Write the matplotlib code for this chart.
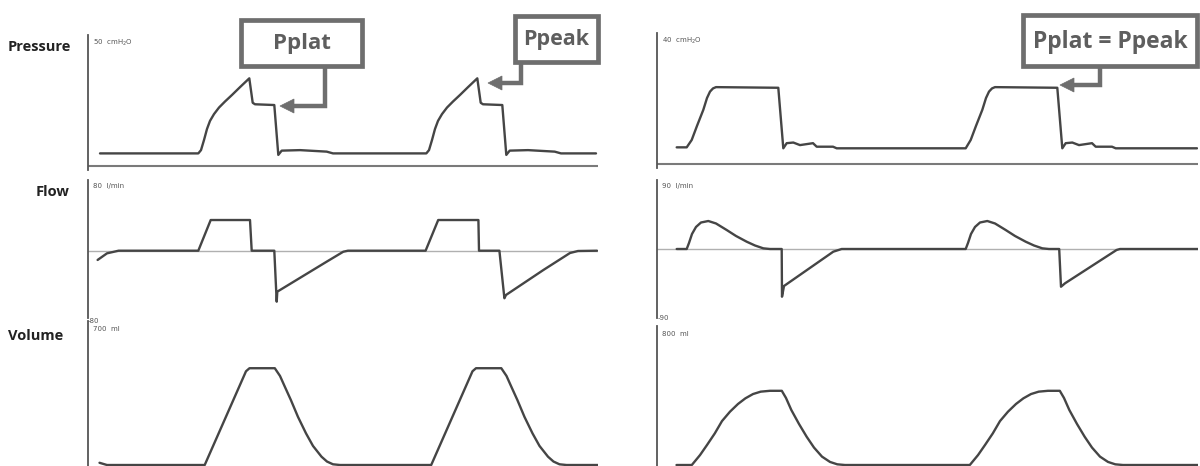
import matplotlib
matplotlib.use("Agg")
import matplotlib.pyplot as plt
from matplotlib.patches import Rectangle, Polygon
from matplotlib.lines import Line2D

# ---------------- data (time in s, values in physical units) ----------------
# Left column: volume-controlled, constant flow
left_p_t = [0.12, 1.103, 1.13, 1.16, 1.19, 1.22, 1.26, 1.31, 1.37, 1.44, 1.52, 1.613, 1.647, 1.67,
            1.863, 1.903, 1.937, 2.12, 2.387, 2.45,
            3.383, 3.41, 3.44, 3.47, 3.50, 3.54, 3.59, 3.65, 3.72, 3.80, 3.893, 3.927, 3.95,
            4.143, 4.183, 4.217, 4.40, 4.667, 4.73, 5.08]
left_p = [5.0, 5.0, 6.3, 10.3, 14.7, 17.9, 20.6, 23.2, 25.6, 28.2, 31.3, 34.8, 25.1, 24.5,
          24.2, 4.4, 6.1, 6.3, 5.7, 5.0,
          5.0, 6.3, 10.3, 14.7, 17.9, 20.6, 23.2, 25.6, 28.2, 31.3, 34.8, 25.1, 24.5,
          24.2, 4.4, 6.1, 6.3, 5.7, 5.0, 5.0]

left_f_t = [0.096, 0.19, 0.306, 1.103, 1.227, 1.62, 1.637, 1.863, 1.887, 1.893, 2.387, 2.553, 2.60,
            3.376, 3.502, 3.904, 3.91, 4.114, 4.164, 4.18, 4.554, 4.82, 4.90, 5.09]
left_f = [-10.9, -3.1, 0, 0, 36.1, 36.1, 0, 0, -60, -48.2, -12.9, -1.2, 0,
          0, 36.1, 36.1, 0, 0, -56, -52.1, -22.7, -2.7, -0.35, 0]

left_v_t = [0.115, 0.19, 1.167, 1.58, 1.615, 1.868, 1.92, 1.97, 2.029, 2.10, 2.18, 2.25, 2.335,
            2.39, 2.45, 2.52,
            3.432, 3.845, 3.88, 4.133, 4.185, 4.235, 4.294, 4.365, 4.445, 4.515, 4.60,
            4.655, 4.715, 4.785, 5.10]
left_v = [11, 0, 0, 462, 477, 477, 439, 384, 320, 237, 156, 94, 41,
          17, 3.5, 0,
          0, 462, 477, 477, 439, 384, 320, 237, 156, 94, 41,
          17, 3.5, 0, 0]

# Right column: pressure-controlled, decelerating flow
right_p_t = [0.197, 0.297, 0.347, 0.40, 0.463, 0.50, 0.53, 0.56, 0.59, 1.213, 1.263, 1.297, 1.363,
             1.43, 1.56, 1.597, 1.76, 1.797,
             3.087, 3.137, 3.19, 3.253, 3.29, 3.32, 3.35, 3.38, 4.003, 4.053, 4.087, 4.153,
             4.22, 4.35, 4.387, 4.55, 4.587, 5.40]
right_p = [5.2, 5.2, 7.5, 11.9, 16.9, 20.6, 22.6, 23.6, 24.0, 23.8, 4.9, 6.5, 6.7,
           5.9, 6.5, 5.4, 5.4, 4.9,
           4.9, 7.5, 11.9, 16.9, 20.6, 22.6, 23.6, 24.0, 23.8, 4.9, 6.5, 6.7,
           5.9, 6.5, 5.4, 5.4, 4.9, 4.9]

right_f_t = [0.197, 0.297, 0.32, 0.35, 0.39, 0.44, 0.513, 0.59, 0.697, 0.79, 0.897, 0.98, 1.063,
             1.13, 1.247, 1.25, 1.27, 1.763, 1.847,
             3.087, 3.11, 3.14, 3.18, 3.23, 3.303, 3.38, 3.487, 3.58, 3.687, 3.77, 3.853,
             3.92, 4.022, 4.04, 4.08, 4.596, 4.63, 5.41]
right_f = [0, 0, 8.1, 20.2, 29.6, 35.6, 37.6, 34.3, 25.5, 17.5, 9.8, 4.7, 0.9,
           0, 0, -64.1, -49.7, -3.6, 0,
           0, 8.1, 20.2, 29.6, 35.6, 37.6, 34.3, 25.5, 17.5, 9.8, 4.7, 0.9,
           0, 0, -50.7, -46.1, -1.3, 0, 0]

right_v_t = [0.195, 0.348, 0.43, 0.50, 0.578, 0.65, 0.73, 0.81, 0.884, 0.96, 1.037, 1.13, 1.248,
             1.29, 1.343, 1.42, 1.497, 1.57, 1.65, 1.73, 1.803, 1.88,
             3.128, 3.21, 3.28, 3.358, 3.43, 3.51, 3.59, 3.664, 3.74, 3.817, 3.91, 4.028,
             4.07, 4.123, 4.20, 4.277, 4.35, 4.43, 4.51, 4.583, 4.66, 5.43]
right_v = [0, 0, 58, 117, 185, 257, 312, 357, 390, 415, 429, 434, 434,
           392, 322, 240, 165, 102, 49, 18, 4, 0,
           0, 58, 117, 185, 257, 312, 357, 390, 415, 429, 434, 434,
           392, 322, 240, 165, 102, 49, 18, 4, 0, 0]

row_labels = ["Pressure", "Flow", "Volume"]
left_scale_labels = ["50  cmH$_2$O", "80  l/min", "-80", "700  ml"]
right_scale_labels = ["40  cmH$_2$O", "90  l/min", "-90", "800  ml"]
callouts = ["Pplat", "Ppeak", "Pplat = Ppeak"]

# ---------------- figure ----------------
W, H = 1200, 466
fig = plt.figure(figsize=(W / 100, H / 100), dpi=100)
fig.patch.set_facecolor("white")

TRACE = "#454545"
AXC = "#555555"


def rect(x0, y0, x1, y1):
    return [x0 / W, 1 - y1 / H, (x1 - x0) / W, (y1 - y0) / H]


def panel(r, xlim, ylim, t, y, hline=None, hcolor="#9a9a9a", hlw=1.0):
    ax = fig.add_axes(r)
    ax.set_xlim(*xlim)
    ax.set_ylim(*ylim)
    for s in ["top", "right", "bottom"]:
        ax.spines[s].set_visible(False)
    ax.spines["left"].set_color(AXC)
    ax.spines["left"].set_linewidth(1.3)
    ax.set_xticks([])
    ax.set_yticks([])
    ax.patch.set_alpha(0)
    if hline is not None:
        ax.axhline(hline, color=hcolor, lw=hlw, zorder=1)
    ax.plot(t, y, color=TRACE, lw=1.7, solid_joinstyle="round", solid_capstyle="round", zorder=3)
    return ax


# left column
panel(rect(88, 35, 598, 170), (0, 5.1), (-1.59, 52.0), left_p_t, left_p, hline=0, hcolor="#7a7a7a", hlw=1.5)
panel(rect(88, 180, 598, 318), (0, 5.1), (-79.2, 83.2), left_f_t, left_f, hline=0, hcolor="#b0b0b0", hlw=1.0)
panel(rect(88, 321, 598, 466), (0, 5.1), (-4.9, 709.7), left_v_t, left_v)

# right column
panel(rect(657, 33, 1198, 168), (0, 5.41), (-1.25, 40.9), right_p_t, right_p, hline=0, hcolor="#7a7a7a", hlw=1.5)
panel(rect(657, 180, 1198, 318), (0, 5.41), (-92.7, 92.7), right_f_t, right_f, hline=0, hcolor="#b0b0b0", hlw=1.0)
panel(rect(657, 326, 1198, 466), (0, 5.41), (-5.8, 813), right_v_t, right_v)

# ---------------- overlay for annotations (pixel coords) ----------------
ov = fig.add_axes([0, 0, 1, 1], zorder=10)
ov.set_xlim(0, W)
ov.set_ylim(H, 0)
ov.axis("off")
ov.patch.set_alpha(0)

FONT = "Open Sans"
for lab, (x, y) in zip(row_labels, [(8, 47), (36, 192), (8, 336)]):
    ov.text(x, y, lab, fontsize=10.5, fontweight="bold", family=FONT, color="#222222",
            ha="left", va="center")

small = dict(fontsize=5, color="#555555", ha="left", va="center", family="DejaVu Sans")
for lab, (x, y) in zip(left_scale_labels, [(93, 43), (93, 186), (88, 321), (93, 329)]):
    ov.text(x, y, lab, **small)
for lab, (x, y) in zip(right_scale_labels, [(662, 41), (662, 186), (658, 318), (662, 334)]):
    ov.text(x, y, lab, **small)

BOXC = "#6e6e6e"
TXTC = "#5e5e5e"


def callout(text, bx0, by0, bx1, by1, cx, cy, tipx, fs):
    ov.add_patch(Rectangle((bx0, by0), bx1 - bx0, by1 - by0, facecolor="white",
                           edgecolor=BOXC, lw=3.4, zorder=5))
    ov.text((bx0 + bx1) / 2, (by0 + by1) / 2 + 1, text, fontsize=fs, fontweight="bold",
            family=FONT, color=TXTC, ha="center", va="center", zorder=6)
    ov.add_line(Line2D([cx, cx, tipx + 12], [by1 + 1, cy, cy], color=BOXC, lw=3.2,
                       solid_joinstyle="miter", zorder=4))
    ov.add_patch(Polygon([[tipx, cy], [tipx + 14, cy - 7], [tipx + 14, cy + 7]],
                         closed=True, facecolor=BOXC, edgecolor=BOXC, lw=0.5, zorder=4))


callout(callouts[0], 241, 20, 362, 66, 325, 106, 280, 16)
callout(callouts[1], 515, 16, 598, 62, 521, 83, 488, 15.5)
callout(callouts[2], 1023, 15, 1197, 66, 1100, 85, 1060, 16.5)

fig.savefig("out.png", dpi=100, facecolor="white")
